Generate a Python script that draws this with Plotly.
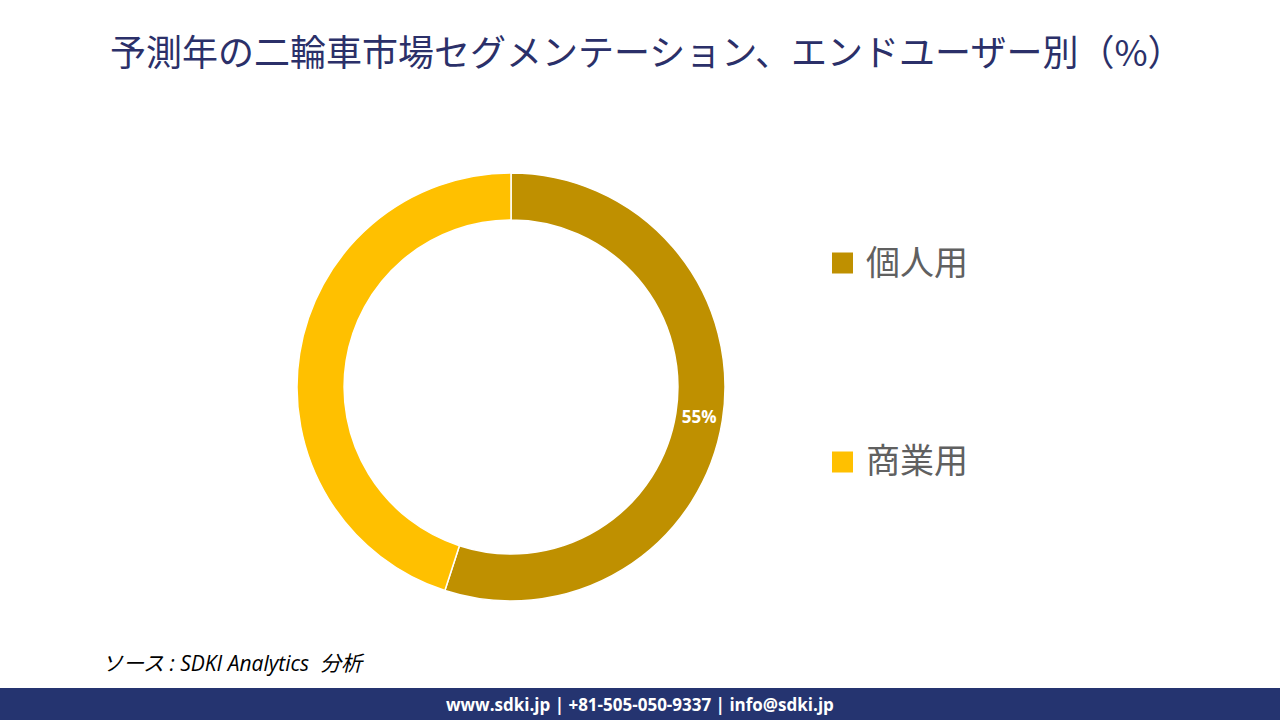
import plotly.graph_objects as go

labels = ["個人用", "商業用"]
values = [55, 45]
colors = ["#BF9000", "#FFC000"]
shown_text = ["55%", ""]

title_text = "予測年の二輪車市場セグメンテーション、エンドユーザー別（%）"
source_text = "ソース : SDKI Analytics  分析"
footer_text = "www.sdki.jp | +81-505-050-9337 | info@sdki.jp"

fig = go.Figure()
fig.add_trace(go.Pie(
    labels=labels,
    values=values,
    hole=0.78,
    sort=False,
    direction="clockwise",
    rotation=0,
    marker=dict(colors=colors, line=dict(color="white", width=1.5)),
    text=shown_text,
    textinfo="text",
    textposition="inside",
    insidetextorientation="horizontal",
    textfont=dict(family="Open Sans, Noto Sans", size=17, color="white", weight="bold"),
    showlegend=False,
    domain=dict(x=[(511 - 214) / 1280, (511 + 214) / 1280],
                y=[(333 - 214) / 720, (333 + 214) / 720]),
    hoverinfo="label+percent",
))

shapes = []
annotations = []

# custom legend
leg_y = [263, 462]
for lab, col, yy in zip(labels, colors, leg_y):
    shapes.append(dict(type="rect", xref="paper", yref="paper",
                       x0=832 / 1280, x1=853 / 1280,
                       y0=(720 - yy - 10.5) / 720, y1=(720 - yy + 10.5) / 720,
                       fillcolor=col, line=dict(width=0)))
    annotations.append(dict(text=lab, xref="paper", yref="paper",
                            x=864 / 1280, y=(720 - yy + 3) / 720,
                            xanchor="left", yanchor="middle", showarrow=False,
                            font=dict(family="Noto Sans CJK JP", size=34, color="#606060")))

# footer bar
shapes.append(dict(type="rect", xref="paper", yref="paper",
                   x0=0, x1=1, y0=0, y1=32 / 720,
                   fillcolor="#253470", line=dict(width=0)))
annotations.append(dict(text="<b>" + footer_text + "</b>", xref="paper", yref="paper",
                        x=0.5, y=16 / 720, xanchor="center", yanchor="middle",
                        showarrow=False,
                        font=dict(family="Open Sans, Noto Sans", size=17, color="white")))

# title
annotations.append(dict(text=title_text, xref="paper", yref="paper",
                        x=(640 + 7) / 1280, y=(720 - 50) / 720, xanchor="center", yanchor="middle",
                        showarrow=False,
                        font=dict(family="Noto Sans CJK JP", size=36, color="#2B3069")))

# source
annotations.append(dict(text="<i>" + source_text + "</i>", xref="paper", yref="paper",
                        x=100 / 1280, y=(720 - 663) / 720, xanchor="left", yanchor="middle",
                        showarrow=False,
                        font=dict(family="Open Sans, Noto Sans CJK JP", size=21, color="#000000")))

fig.update_layout(
    width=1280, height=720,
    margin=dict(l=0, r=0, t=0, b=0),
    paper_bgcolor="white", plot_bgcolor="white",
    shapes=shapes, annotations=annotations,
)

fig.write_html("out.html")
